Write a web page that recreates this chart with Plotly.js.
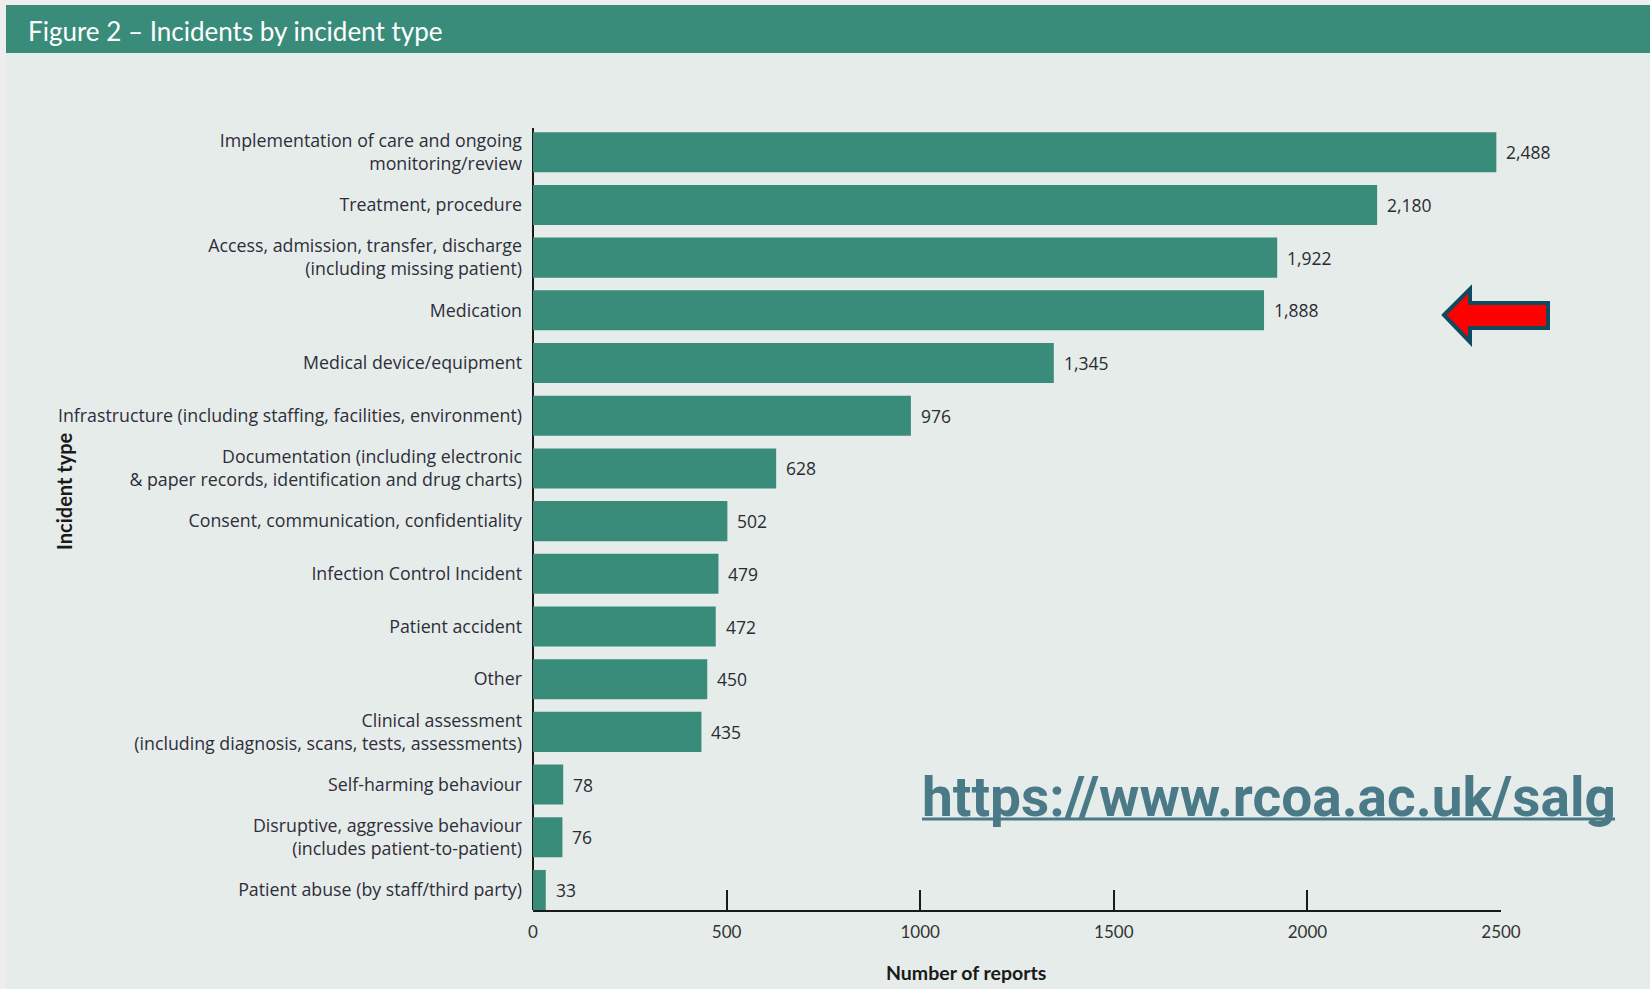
<!DOCTYPE html>
<html>
<head>
<meta charset="utf-8">
<script src="https://cdn.plot.ly/plotly-3.0.1.min.js"></script>
<style>
  html, body { margin: 0; padding: 0; background: #eeeeee; width: 1650px; height: 989px; overflow: hidden; }
  #chart { position: absolute; left: 6px; top: 5px; width: 1644px; height: 984px; }
</style>
</head>
<body>
<div id="chart"></div>
<script>
// ---- Data ----
const categories = [
  "Implementation of care and ongoing<br>monitoring/review",
  "Treatment, procedure",
  "Access, admission, transfer, discharge<br>(including missing patient)",
  "Medication",
  "Medical device/equipment",
  "Infrastructure (including staffing, facilities, environment)",
  "Documentation (including electronic<br>& paper records, identification and drug charts)",
  "Consent, communication, confidentiality",
  "Infection Control Incident",
  "Patient accident",
  "Other",
  "Clinical assessment<br>(including diagnosis, scans, tests, assessments)",
  "Self-harming behaviour",
  "Disruptive, aggressive behaviour<br>(includes patient-to-patient)",
  "Patient abuse (by staff/third party)"
];
const reports = [2488, 2180, 1922, 1888, 1345, 976, 628, 502, 479, 472, 450, 435, 78, 76, 33];
const xTickVals = [0, 500, 1000, 1500, 2000, 2500];
const xTickText = ["0", "500", "1000", "1500", "2000", "2500"];
const titleText = "Figure 2 \u2013 Incidents by incident type";
const xTitle = "Number of reports";
const yTitle = "Incident type";
const urlText = "https://www.rcoa.ac.uk/salg";

// ---- Layout geometry (page pixels) ----
const W = 1644, H = 984, OX = 6, OY = 5;
const M = { l: 527, r: 149, t: 123, b: 79 };
const pw = W - M.l - M.r, ph = H - M.t - M.b;
function px(x) { return (x - OX - M.l) / pw; }
function py(y) { return (H - M.b - (y - OY)) / ph; }

const green = "#3a8c7a";
const font = "Lato, 'Open Sans', sans-serif";
const labelFont = "'Open Sans', Lato, sans-serif";

const trace = {
  type: "bar",
  orientation: "h",
  x: reports,
  y: categories,
  marker: { color: green },
  hoverinfo: "skip",
  cliponaxis: false
};

const valueAnnotations = reports.map((v, i) => ({
  x: v, y: categories[i], xref: "x", yref: "y",
  text: v.toLocaleString("en-US"),
  xanchor: "left", yanchor: "middle", xshift: 8,
  showarrow: false,
  font: { family: labelFont, size: 17.5, color: "#2b2b33" }
}));

const arrowPts = [[1444,315],[1470,289],[1470,303],[1548,303],[1548,328],[1470,328],[1470,342]];
const arrowPath = arrowPts.map((p, i) => (i ? "L" : "M") + px(p[0]) + "," + py(p[1])).join(" ") + " Z";

const layout = {
  width: W, height: H,
  margin: M,
  paper_bgcolor: "#e6ecea",
  plot_bgcolor: "rgba(0,0,0,0)",
  showlegend: false,
  bargap: 0.24,
  font: { family: font, color: "#2b2b2b" },
  xaxis: {
    range: [0, 2500],
    tickvals: xTickVals, ticktext: xTickText,
    ticks: "inside", ticklen: 20, tickwidth: 2, tickcolor: "#1a1a1a",
    showline: true, linewidth: 2, linecolor: "#1a1a1a",
    showgrid: false, zeroline: false,
    tickfont: { family: font, size: 17, color: "#333333" },
    ticklabelstandoff: 6,
    fixedrange: true
  },
  yaxis: {
    type: "category",
    range: [14.38, -0.46],
    showline: false, showgrid: false, zeroline: false, ticks: "",
    tickfont: { family: labelFont, size: 17.8, color: "#2e2e3a" },
    ticklabelstandoff: 10,
    fixedrange: true
  },
  shapes: [
    // header band
    { type: "rect", xref: "paper", yref: "paper", layer: "below",
      x0: px(6), x1: px(1650), y0: py(53), y1: py(5),
      fillcolor: green, line: { width: 0 } },
    // y axis line (behind bars)
    { type: "line", xref: "paper", yref: "paper", layer: "below",
      x0: 0, x1: 0, y0: 0, y1: 1, line: { color: "#1a1a1a", width: 2 } },
    // red arrow
    { type: "path", xref: "paper", yref: "paper", path: arrowPath,
      fillcolor: "#ff0000", line: { color: "#0f4a5f", width: 4 } },
    // URL underline
    { type: "line", xref: "paper", yref: "paper",
      x0: px(922), x1: px(1615), y0: py(819), y1: py(819),
      line: { color: "#4a7a88", width: 3 } }
  ],
  annotations: [
    { xref: "paper", yref: "paper", x: px(26), y: py(31), xanchor: "left", yanchor: "middle",
      text: titleText, showarrow: false, font: { family: font, size: 26, color: "#ffffff" } },
    { xref: "paper", yref: "paper", x: px(64), y: py(491), xanchor: "center", yanchor: "middle",
      textangle: -90, text: "<b>" + yTitle + "</b>", showarrow: false,
      font: { family: font, size: 20, color: "#1a1a1a" } },
    { xref: "paper", yref: "paper", x: px(966), y: py(973), xanchor: "center", yanchor: "middle",
      text: "<b>" + xTitle + "</b>", showarrow: false,
      font: { family: font, size: 19.5, color: "#1a1a1a" } },
    { xref: "paper", yref: "paper", x: px(920), y: py(797), xanchor: "left", yanchor: "middle",
      text: "<b>" + urlText + "</b>", showarrow: false,
      font: { family: "Roboto, sans-serif", size: 55, color: "#4a7a88" } }
  ].concat(valueAnnotations)
};

Plotly.newPlot("chart", [trace], layout, { displayModeBar: false, staticPlot: true });
</script>
</body>
</html>
